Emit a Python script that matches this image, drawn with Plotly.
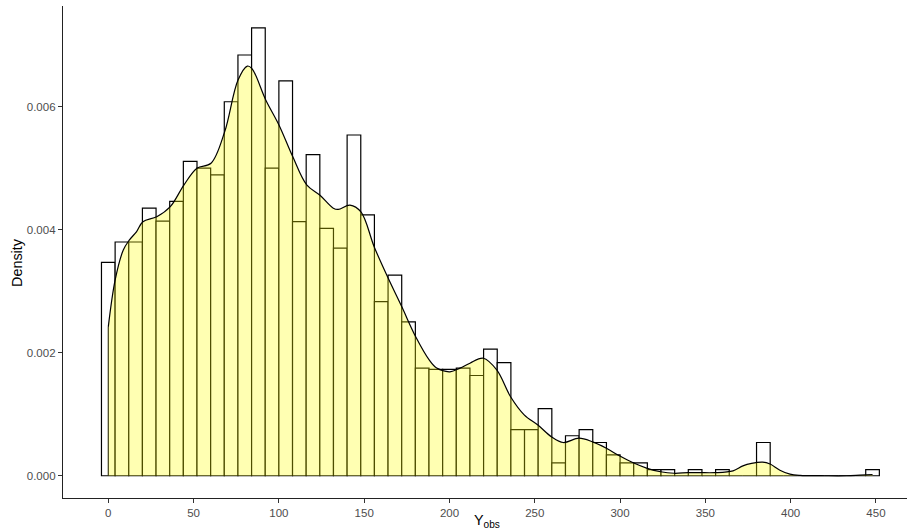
import plotly.graph_objects as go

# Histogram: bin centres (width 8) and density heights
bin_width = 8
bin_centers = [8 * k for k in range(57)]
bin_density = [
    0.00347, 0.00380, 0.00380, 0.00435, 0.00414, 0.00446, 0.00511, 0.00500,
    0.00489, 0.00608, 0.00684, 0.00728, 0.00500, 0.00642, 0.00413, 0.00522,
    0.00402, 0.00370, 0.00554, 0.00424, 0.00283, 0.00326, 0.00250, 0.00175,
    0.00173, 0.00173, 0.00175, 0.00163, 0.00206, 0.00184, 0.00075, 0.00075,
    0.00109, 0.00021, 0.00065, 0.00075, 0.00054, 0.00034, 0.00021, 0.00021,
    0.00010, 0.00010, 0.0, 0.00010, 0.0, 0.00010, 0.0, 0.0,
    0.00054, 0.0, 0.0, 0.0, 0.0, 0.0, 0.0, 0.0, 0.00010,
]

# Kernel density curve
dens_x = [0, 4, 8.8, 12.3, 16.6, 20.3, 28.4, 36.2, 44.4, 52, 60.2, 68.2, 76,
          81.5, 84.2, 92.3, 100.1, 108.1, 116.3, 124.1, 131.9, 134.8, 141.7,
          148.1, 155.9, 164.1, 172, 180.2, 188.2, 192.5, 200.3, 206.2, 212,
          219.8, 227.7, 235.9, 243.8, 252, 259.9, 266.7, 275.9, 283.9, 291.7,
          299.9, 307.7, 315.9, 323.7, 331.7, 339.9, 346.8, 355.6, 366.2, 372,
          377.1, 383.6, 387.9, 393.7, 399.6, 405.5, 420, 432.8, 440.6, 448]
dens_y = [0.00242, 0.00318, 0.00367, 0.00383, 0.00397, 0.00413, 0.00421,
          0.00437, 0.00473, 0.00500, 0.00508, 0.00559, 0.00643, 0.00666,
          0.00662, 0.00611, 0.00570, 0.00519, 0.00473, 0.00456, 0.00435,
          0.00433, 0.00440, 0.00429, 0.00372, 0.00321, 0.00275, 0.00226,
          0.00188, 0.00175, 0.00169, 0.00175, 0.00183, 0.00191, 0.00172,
          0.00128, 0.00099, 0.00082, 0.00063, 0.00054, 0.00061, 0.00055,
          0.00045, 0.00032, 0.00021, 0.00012, 0.000065, 0.00004, 0.00005,
          0.00005, 0.00005, 0.00008, 0.00016, 0.00020, 0.00022, 0.00019,
          0.00009, 0.000025, 0.000005, 0.0, 0.0, 0.00001, 0.00002]

x_ticks = [0, 50, 100, 150, 200, 250, 300, 350, 400, 450]
y_ticks = [0.0, 0.002, 0.004, 0.006]
y_tick_labels = ["0.000", "0.002", "0.004", "0.006"]

FONT = "Liberation Sans, Arial, Helvetica, sans-serif"

fig = go.Figure()

fig.add_trace(go.Bar(
    x=bin_centers, y=bin_density, width=bin_width,
    marker=dict(color="white", line=dict(color="black", width=1.2)),
    showlegend=False, hoverinfo="skip",
))

fig.add_trace(go.Scatter(
    x=dens_x, y=dens_y, mode="lines", fill="tozeroy",
    fillcolor="rgba(255,255,0,0.3)",
    line=dict(color="black", width=1.2, shape="spline", smoothing=1.0),
    showlegend=False, hoverinfo="skip",
))

# left edge of the density polygon
fig.add_trace(go.Scatter(
    x=[dens_x[0], dens_x[0]], y=[0, dens_y[0]], mode="lines",
    line=dict(color="rgba(40,40,0,0.9)", width=1.2),
    showlegend=False, hoverinfo="skip",
))

fig.update_layout(
    width=907, height=532,
    margin=dict(l=63, r=0, t=6, b=34),
    plot_bgcolor="white", paper_bgcolor="white",
    font=dict(family=FONT),
    xaxis=dict(
        range=[-26.55, 468.2], tickmode="array", tickvals=x_ticks,
        ticks="outside", ticklen=4, tickwidth=1.1, tickcolor="#333333",
        showline=True, linecolor="#222222", linewidth=1.3,
        showgrid=False, zeroline=False,
        tickfont=dict(size=11.5, color="#4D4D4D", family=FONT),
    ),
    yaxis=dict(
        range=[-0.000362, 0.007637], tickmode="array", tickvals=y_ticks,
        ticktext=y_tick_labels,
        ticks="outside", ticklen=4, tickwidth=1.1, tickcolor="#333333",
        showline=True, linecolor="#222222", linewidth=1.3,
        showgrid=False, zeroline=False,
        tickfont=dict(size=11.5, color="#4D4D4D", family=FONT),
    ),
    annotations=[
        dict(text="Density", xref="paper", yref="paper",
             x=(17 - 63) / 844, y=(498 - 263) / 492,
             xanchor="center", yanchor="middle", textangle=-90,
             showarrow=False, font=dict(size=14.4, color="black", family=FONT)),
        dict(text="Y<sub>obs</sub>", xref="paper", yref="paper",
             x=(487 - 63) / 844, y=(498 - 521) / 492,
             xanchor="center", yanchor="middle",
             showarrow=False, font=dict(size=14.4, color="black", family=FONT)),
    ],
)

fig.write_html("out.html")
